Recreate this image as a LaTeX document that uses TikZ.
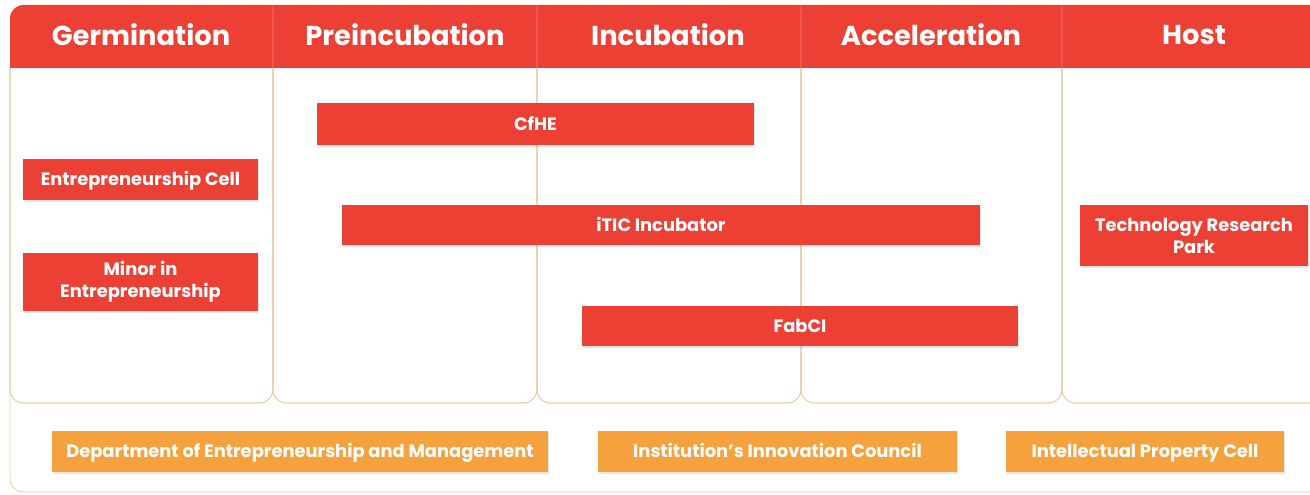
\documentclass[tikz,border=0pt]{standalone}
\usepackage{fontspec}
\setmainfont{Poppins}
\usetikzlibrary{shadows}

\definecolor{barred}{HTML}{EC4034}
\definecolor{barorange}{HTML}{F5A23E}
\definecolor{colline}{HTML}{E9CDA6}

\newlength\px
\setlength\px{0.75pt}

\begin{document}
\begin{tikzpicture}[
    x=0.75pt, y=-0.75pt,
    % Estilo do texto do cabeçalho
    cabecalho/.style={text=white, font=\fontsize{20.5}{24}\selectfont\bfseries},
    % Barras vermelhas (programas)
    programa/.style={fill=barred, text=white, align=center, inner sep=0pt,
        font=\fontsize{13.4}{16.5}\selectfont\bfseries,
        drop shadow={opacity=0.2, shadow xshift=1pt, shadow yshift=-1.5pt}},
    % Barras laranja (unidades de apoio)
    apoio/.style={fill=barorange, text=white, align=center, inner sep=0pt,
        font=\fontsize{13.4}{16.5}\selectfont\bfseries,
        drop shadow={opacity=0.2, shadow xshift=1pt, shadow yshift=-1.5pt}},
    % Texto de uma linha centrado pelas maiúsculas
    umalinha/.style={text height=9.4pt, text depth=0pt},
    % Linhas das colunas
    coluna/.style={draw=colline, line width=0.8pt, rounded corners=10}
]
    \useasboundingbox (0,0) rectangle (1310,495);

    % ==========================================
    % 1. MOLDURA E COLUNAS
    % ==========================================
    \draw[colline, line width=0.6pt, rounded corners=10]
        (10,68) -- (10,492) -- (1310,492);

    \draw[coluna] (10,68) -- (10,403) -- (273,403) -- (273,68);
    \draw[coluna] (273,68) -- (273,403) -- (537,403) -- (537,68);
    \draw[coluna] (537,68) -- (537,403) -- (801,403) -- (801,68);
    \draw[coluna] (801,68) -- (801,403) -- (1062,403) -- (1062,68);
    \draw[coluna] (1062,68) -- (1062,403) -- (1320,403);

    % ==========================================
    % 2. CABEÇALHO
    % ==========================================
    \fill[barred] (10,68) [rounded corners=10] -- (10,5) [sharp corners]
        -- (1310,5) -- (1310,68) -- cycle;
    \foreach \xc in {273,537,801,1062}
        \draw[white, opacity=0.12, line width=0.8pt] (\xc,5) -- (\xc,68);

    \node[cabecalho] (germ) at (141,35) {Germination};
    \node[cabecalho] (preinc) at (405,35) {Preincubation};
    \node[cabecalho] (inc) at (668,35) {Incubation};
    \node[cabecalho] (acel) at (931,35) {Acceleration};
    \node[cabecalho] (host) at (1194,35) {Host};

    % ==========================================
    % 3. PROGRAMAS (barras vermelhas)
    % ==========================================
    \node[programa, umalinha, minimum width=437\px, minimum height=42\px] (cfhe) at (535.5,124) {CfHE};
    \node[programa, umalinha, minimum width=235\px, minimum height=41\px] (ecell) at (140.5,179.5) {Entrepreneurship Cell};
    \node[programa, umalinha, minimum width=638\px, minimum height=40\px] (itic) at (661,225) {iTIC Incubator};
    \node[programa, minimum width=228\px, minimum height=61\px] (trp) at (1194,235.5) {Technology Research\\Park};
    \node[programa, minimum width=235\px, minimum height=58\px] (minor) at (140.5,282) {Minor in\\Entrepreneurship};
    \node[programa, umalinha, minimum width=436\px, minimum height=40\px] (fabci) at (800,326) {FabCI};

    % ==========================================
    % 4. UNIDADES DE APOIO (barras laranja)
    % ==========================================
    \node[apoio, umalinha, minimum width=496\px, minimum height=41\px] (dem) at (300,451.5) {Department of Entrepreneurship and Management};
    \node[apoio, umalinha, minimum width=359\px, minimum height=41\px] (iic) at (777.5,451.5) {Institution’s Innovation Council};
    \node[apoio, umalinha, minimum width=278\px, minimum height=41\px] (ipc) at (1145,451.5) {Intellectual Property Cell};

\end{tikzpicture}
\end{document}
